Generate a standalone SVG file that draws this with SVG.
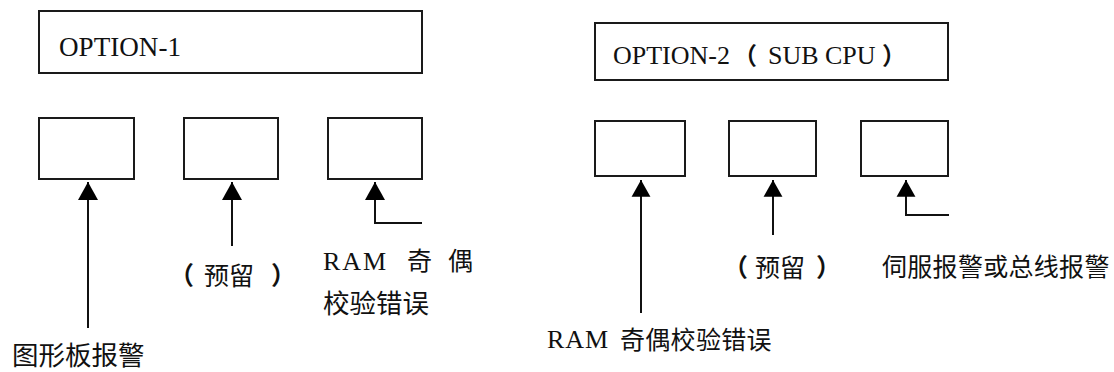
<svg xmlns="http://www.w3.org/2000/svg" width="1114" height="372" viewBox="0 0 1114 372">
  <defs>
    <style>
      .box { fill: #ffffff; stroke: #1a1a1a; stroke-width: 2; }
      .wire { fill: none; stroke: #111111; stroke-width: 2; }
      .latin { font-family: "Liberation Serif", "Times New Roman", serif; fill: #111111; }
      .cjk { font-family: "Noto Sans CJK SC", "Noto Sans", sans-serif; fill: #111111; }
      .paren { font-weight: bold; }
    </style>
    <!-- filled arrowheads, tip at the end of the path -->
    <marker id="head-l" markerUnits="userSpaceOnUse" markerWidth="22" markerHeight="22" viewBox="-19 -11 20 22" refX="0" refY="0" orient="auto">
      <path d="M0,0 L-18,-10 L-18,10 Z" fill="#000000"/>
    </marker>
    <marker id="head-s" markerUnits="userSpaceOnUse" markerWidth="20" markerHeight="20" viewBox="-16 -9 17 18" refX="0" refY="0" orient="auto">
      <path d="M0,0 L-15,-8.5 L-15,8.5 Z" fill="#000000"/>
    </marker>
  </defs>

  <rect width="1114" height="372" fill="#ffffff"/>

  <!-- OPTION-1 module -->
  <g id="option1">
    <rect class="box" x="39" y="11" width="383" height="62"/>
    <text class="latin" x="59" y="56" font-size="28" textLength="122" lengthAdjust="spacingAndGlyphs">OPTION-1</text>
  </g>
  <g id="opt1-bit1"><rect class="box" x="39" y="118" width="95" height="61"/></g>
  <g id="opt1-bit2"><rect class="box" x="184" y="118" width="94" height="61"/></g>
  <g id="opt1-bit3"><rect class="box" x="328" y="118" width="94" height="61"/></g>

  <!-- OPTION-2 module -->
  <g id="option2">
    <rect class="box" x="595" y="23" width="353" height="57"/>
    <text font-size="26">
      <tspan class="latin" x="613" y="64">OPTION-2</tspan>
      <tspan class="cjk paren" x="733" y="64" font-size="24">（</tspan>
      <tspan class="latin" x="768" y="64">SUB</tspan>
      <tspan class="latin" x="825" y="64">CPU</tspan>
      <tspan class="cjk paren" x="882" y="64" font-size="24">）</tspan>
    </text>
  </g>
  <g id="opt2-bit1"><rect class="box" x="595" y="121" width="90" height="55"/></g>
  <g id="opt2-bit2"><rect class="box" x="729" y="121" width="87" height="55"/></g>
  <g id="opt2-bit3"><rect class="box" x="861" y="121" width="87" height="55"/></g>

  <!-- signal lines into the bit boxes -->
  <g id="connectors">
    <path class="wire" d="M88,328 V182" marker-end="url(#head-l)"/>
    <path class="wire" d="M232,246 V182" marker-end="url(#head-l)"/>
    <path class="wire" d="M422,223 H375 V182" marker-end="url(#head-l)"/>
    <path class="wire" d="M641,313 V180" marker-end="url(#head-s)"/>
    <path class="wire" d="M773,235 V180" marker-end="url(#head-s)"/>
    <path class="wire" d="M949,215 H906 V180" marker-end="url(#head-s)"/>
  </g>

  <!-- signal names -->
  <g id="label-graphic-alarm">
    <text class="cjk" x="12" y="365" font-size="26.5">图形板报警</text>
  </g>
  <g id="label-reserved-1">
    <text class="cjk" font-size="25" y="285">
      <tspan class="paren" x="169">（</tspan><tspan x="204">预留</tspan><tspan class="paren" x="271">）</tspan>
    </text>
  </g>
  <g id="label-ram-parity-1">
    <text font-size="26">
      <tspan class="latin" x="323" y="270" letter-spacing="2">RAM</tspan>
      <tspan class="cjk" x="407" y="270" font-size="25">奇</tspan>
      <tspan class="cjk" x="448" y="270" font-size="25">偶</tspan>
    </text>
    <text class="cjk" x="323" y="313" font-size="26.5">校验错误</text>
  </g>
  <g id="label-ram-parity-2">
    <text font-size="26">
      <tspan class="latin" x="547" y="348" letter-spacing="1">RAM</tspan>
      <tspan class="cjk" x="620" y="349" font-size="25" letter-spacing="0.3">奇偶校验错误</tspan>
    </text>
  </g>
  <g id="label-reserved-2">
    <text class="cjk" font-size="25" y="277">
      <tspan class="paren" x="723">（</tspan><tspan x="755">预留</tspan><tspan class="paren" x="816">）</tspan>
    </text>
  </g>
  <g id="label-servo-bus">
    <text class="cjk" x="882" y="276" font-size="25" letter-spacing="0.3">伺服报警或总线报警</text>
  </g>
</svg>
